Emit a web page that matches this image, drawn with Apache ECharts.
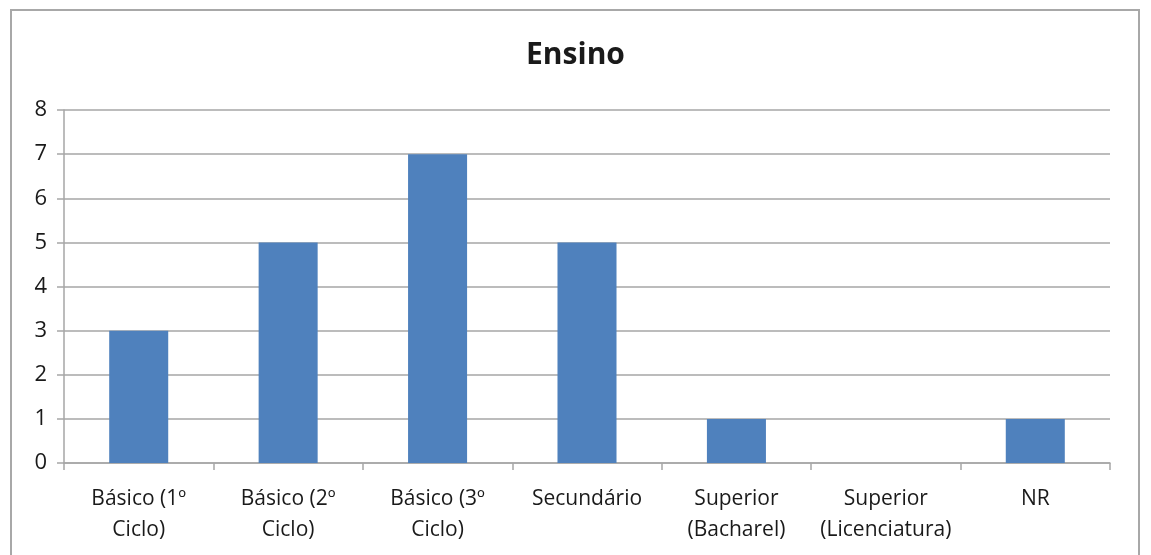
<!DOCTYPE html>
<html lang="pt">
<head>
<meta charset="UTF-8">
<title>Ensino</title>
<script src="https://cdn.jsdelivr.net/npm/echarts@6/dist/echarts.min.js"></script>
<style>
  html, body { margin: 0; padding: 0; background: #fff; }
  #main { width: 1151px; height: 555px; }
</style>
</head>
<body>
<div id="main"></div>
<script>
// dados
const categorias = ['Básico (1º\nCiclo)', 'Básico (2º\nCiclo)', 'Básico (3º\nCiclo)', 'Secundário',
  'Superior\n(Bacharel)', 'Superior\n(Licenciatura)', 'NR'];
const valores = [3, 5, 7, 5, 1, 0, 1];
const yTicks = [0, 1, 2, 3, 4, 5, 6, 7, 8];

const fonte = '"Open Sans", "Noto Sans", sans-serif';
const cinza = '#a6a6a6';

let chart = echarts.init(document.getElementById('main'));

let option = {
  backgroundColor: '#fff',
  animation: false,
  title: {
    text: 'Ensino',
    left: 'center',
    top: 35,
    textStyle: { fontFamily: fonte, fontSize: 30, fontWeight: 'bold', color: '#1a1a1a' }
  },
  graphic: [{
    type: 'rect',
    shape: { x: 11, y: 10, width: 1128, height: 600 },
    style: { fill: 'none', stroke: '#a8a8a8', lineWidth: 2 },
    silent: true
  }],
  grid: { left: 64, right: 41, top: 110, bottom: 92 },
  xAxis: {
    type: 'category',
    data: categorias,
    axisLine: { lineStyle: { color: cinza, width: 1.5 } },
    axisTick: { show: true, length: 7, alignWithLabel: false, lineStyle: { color: cinza, width: 1.5 } },
    axisLabel: {
      interval: 0,
      margin: 21,
      fontFamily: fonte,
      fontSize: 21,
      lineHeight: 31,
      color: '#1a1a1a'
    }
  },
  yAxis: {
    type: 'value',
    min: yTicks[0],
    max: yTicks[yTicks.length - 1],
    interval: 1,
    axisLine: { show: true, lineStyle: { color: cinza, width: 1.5 } },
    axisTick: { show: true, length: 7, lineStyle: { color: cinza, width: 1.5 } },
    splitLine: { lineStyle: { color: cinza, width: 1.5 } },
    axisLabel: { margin: 17, fontFamily: fonte, fontSize: 22, color: '#1a1a1a' }
  },
  series: [{
    type: 'bar',
    data: valores,
    barWidth: '39.5%',
    itemStyle: { color: '#4f81bd' }
  }]
};

chart.setOption(option);
</script>
</body>
</html>
